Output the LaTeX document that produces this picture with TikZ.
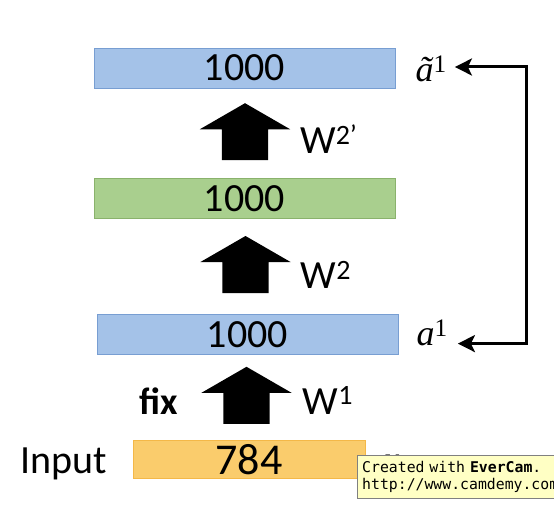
\documentclass[tikz,border=0pt]{standalone}
\usepackage{fontspec}
\setmainfont{Carlito}
\newfontfamily\camfont{DejaVu Sans Mono}
\newfontfamily\varfont{Liberation Serif}
\usetikzlibrary{arrows.meta,positioning,shapes.arrows}

\definecolor{layerblue}{RGB}{164,194,232}
\definecolor{layerblueline}{RGB}{120,158,210}
\definecolor{layergreen}{RGB}{169,207,142}
\definecolor{layergreenline}{RGB}{138,178,108}
\definecolor{inputorange}{RGB}{250,204,108}
\definecolor{inputorangeline}{RGB}{244,184,72}
\definecolor{camyellow}{RGB}{255,255,196}

\tikzset{
  layer/.style={draw, line width=0.8pt, minimum width=301pt, minimum height=40pt,
    inner sep=0pt, font=\fontsize{40}{40}\selectfont},
  bigup/.style={single arrow, fill=black, rotate=90, anchor=tail, inner sep=0pt, inner ysep=23pt,
    single arrow head extend=22pt, single arrow tip angle=120, minimum height=57pt},
  wlabel/.style={inner sep=0pt, font=\fontsize{40}{40}\selectfont},
  alabel/.style={inner sep=0pt, font=\varfont\fontsize{36}{36}\selectfont},
}

\begin{document}
\begin{tikzpicture}[x=1pt,y=1pt,>={Stealth[length=17pt,width=17pt,inset=4pt]}]
\useasboundingbox (0,0) rectangle (554,507);

% layers
\node[layer, fill=layerblue, draw=layerblueline] (top) at (244.5,439) {1000};
\node[layer, fill=layergreen, draw=layergreenline] (mid) [below=90pt of top] {1000};
\node[layer, fill=layerblue, draw=layerblueline] (hid) [below=95pt of mid, xshift=3pt] {1000};
\node[layer, fill=inputorange, draw=inputorangeline, minimum width=232pt, minimum height=38pt,
  font=\fontsize{44}{44}\selectfont] (in) [below=85pt of hid, xshift=1.5pt] {784};

% weights
\node[bigup] (up2) at ([yshift=18pt,xshift=0.5pt]mid.north) {};
\node[bigup] (up1) at ([yshift=21pt,xshift=-2pt]hid.north) {};
\node[bigup] (up0) at ([yshift=16pt,xshift=-2.5pt]in.north) {};

\node[wlabel, anchor=base west] (w2p) at ([xshift=55pt,yshift=7pt]up2.tail) {W\textsuperscript{2’}};
\node[wlabel, anchor=base west] (w2) at ([xshift=55pt,yshift=5pt]up1.tail) {W\textsuperscript{2}};
\node[wlabel, anchor=base west] (w1) at ([xshift=56pt,yshift=10pt]up0.tail) {W\textsuperscript{1}};
\node[wlabel, anchor=base east, font=\fontsize{38}{38}\selectfont\bfseries] (fix) at ([xshift=-68pt,yshift=10pt]up0.tail) {fix};

% side labels
\node[alabel, anchor=base west] (at1) at ([xshift=20pt,yshift=-14pt]top.east) {\textit{ã}\textsuperscript{1}};
\node[alabel, anchor=base west] (a1) at ([xshift=18pt,yshift=-11pt]hid.east) {\textit{a}\textsuperscript{1}};
\node[alabel, anchor=base west] (xin) at ([xshift=18pt,yshift=-12pt]in.east) {\textit{x}};
\node[wlabel, anchor=base east] (inlab) at ([xshift=-25pt,yshift=-14pt]in.west) {Input};

\draw[<->, line width=3pt] ([xshift=8pt,yshift=15pt]at1.base east) -- ++(72pt,0)
  |- ([xshift=10pt,yshift=2pt]a1.base east);

% recorder note
\node[draw=gray, fill=camyellow, anchor=north west, text width=220pt, minimum height=43pt,
  inner sep=5pt, align=left, font=\camfont\fontsize{14.8}{17}\selectfont] (cam) at (357,52)
  {Created with \textbf{EverCam}.\\http://www.camdemy.com};
\end{tikzpicture}
\end{document}
